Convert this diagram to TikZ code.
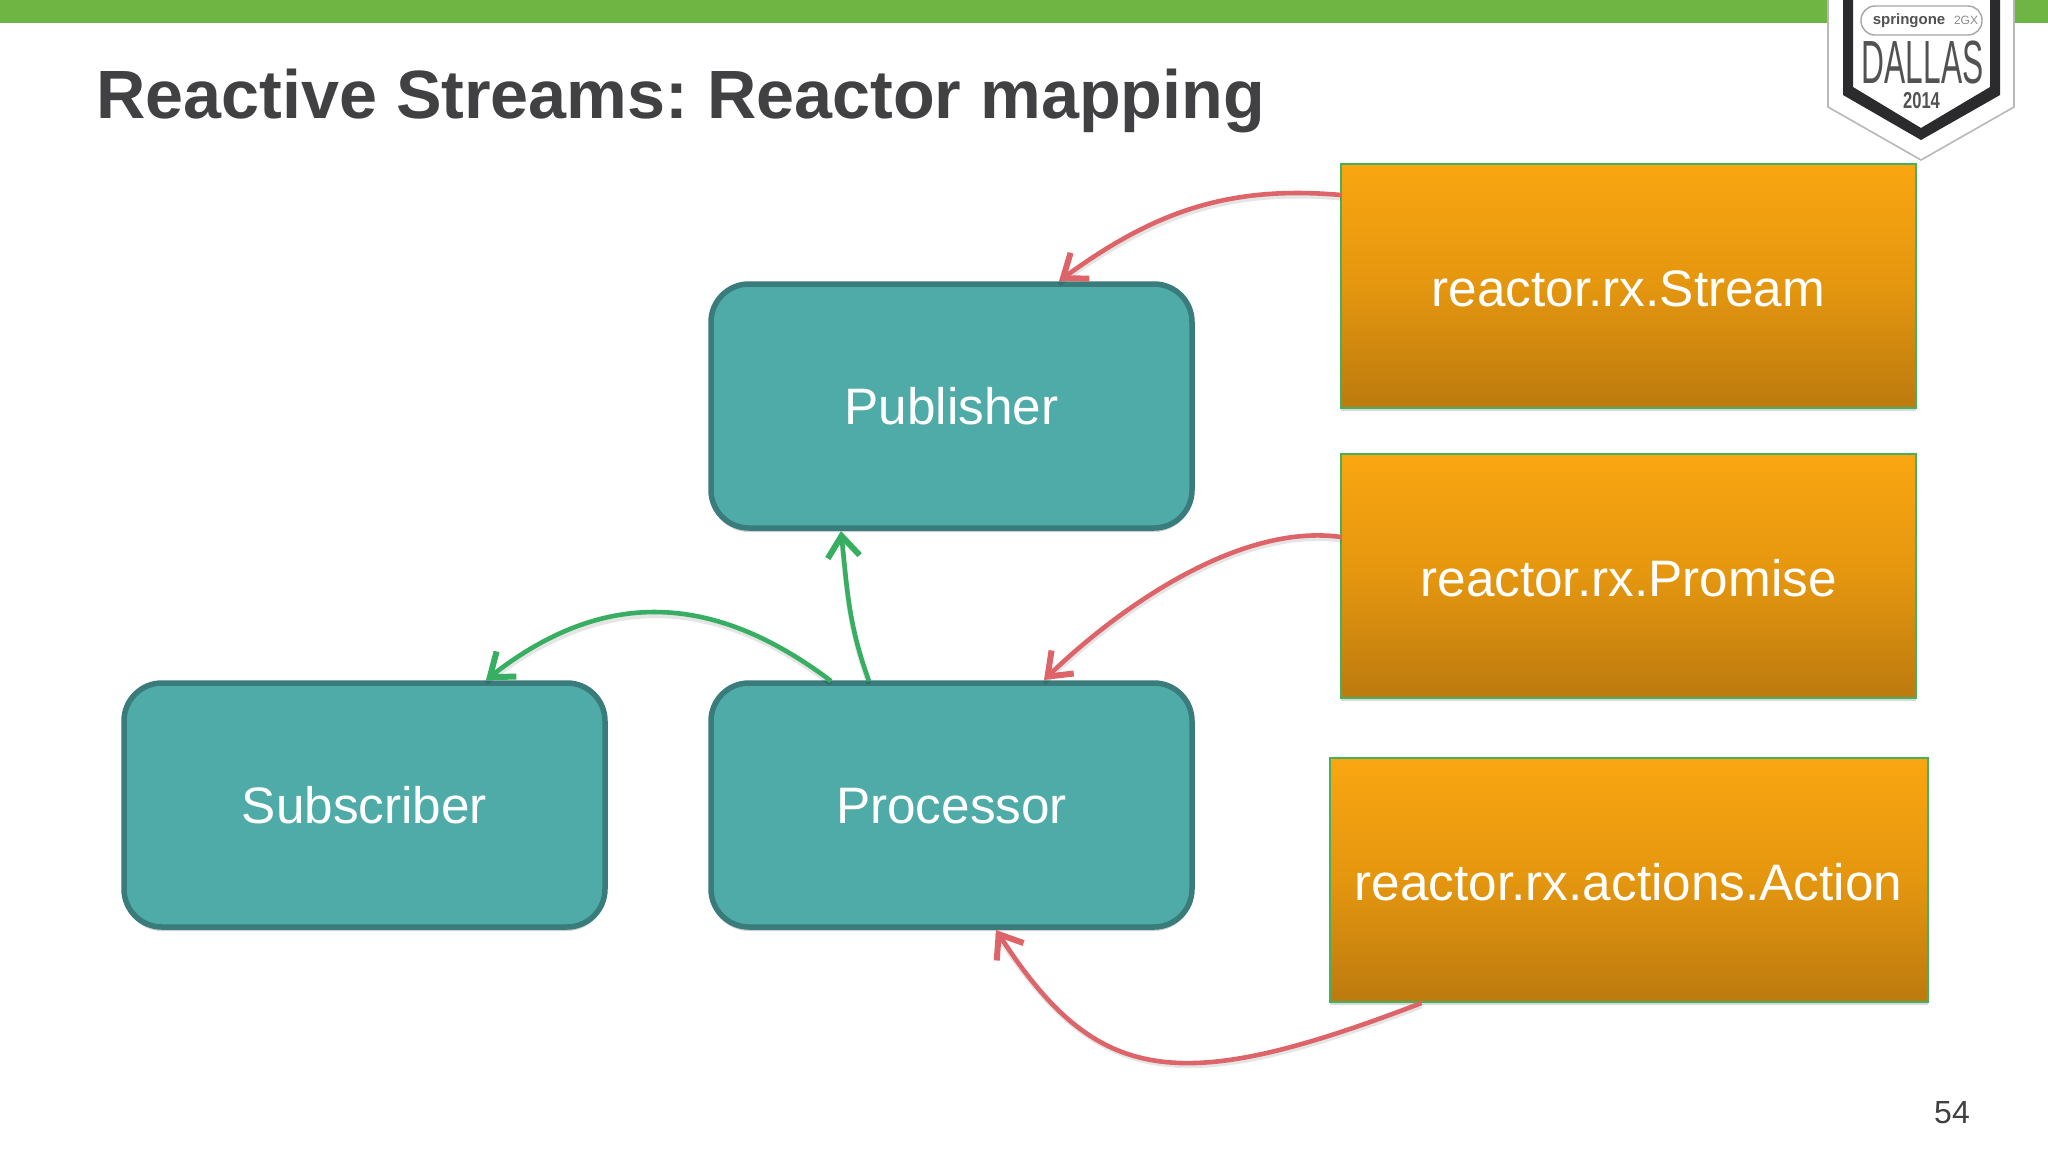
\documentclass[tikz,border=0pt]{standalone}
\usepackage{fontspec}
\setmainfont{Liberation Sans}
\usetikzlibrary{arrows.meta,shadows,positioning}
\definecolor{barGreen}{HTML}{6FB544}
\definecolor{tealFill}{HTML}{4FABA7}
\definecolor{tealLine}{HTML}{3A7C7C}
\definecolor{orangeTop}{HTML}{FAA611}
\definecolor{orangeMid}{HTML}{E4960F}
\definecolor{orangeLow}{HTML}{BC7A0E}
\definecolor{boxEdge}{HTML}{45B060}
\definecolor{redLine}{HTML}{DD6469}
\definecolor{greenLine}{HTML}{37AE62}
\definecolor{titleGrey}{HTML}{414042}
\definecolor{badgeDark}{HTML}{2B2B2D}
\frenchspacing
\tikzset{
  teal box/.style={draw=tealLine,fill=tealFill,line width=5.5pt,rounded corners=38pt,
    minimum width=481pt,minimum height=244pt,text=white,outer sep=0pt,
    text height=37pt,text depth=0pt,font=\fontsize{51.3}{60}\selectfont,
    drop shadow={shadow xshift=0pt,shadow yshift=-4pt,opacity=.18,fill=black}},
  orange box/.style={draw=boxEdge,line width=2pt,top color=orangeTop,bottom color=orangeLow,
    middle color=orangeMid,minimum height=244pt,text=white,outer sep=0pt,
    text height=40pt,text depth=0pt,font=\fontsize{51.3}{60}\selectfont,
    drop shadow={shadow xshift=0pt,shadow yshift=-3pt,opacity=.15,fill=black}},
  link/.style={line width=4.6pt,-{Straight Barb[length=21pt,width=32pt,line width=6pt]},
    preaction={draw=black,opacity=.10,line width=5pt,transform canvas={yshift=-3pt},-}},
  red link/.style={link,draw=redLine},
  green link/.style={link,draw=greenLine},
  badge text/.style={text=badgeText,inner sep=0pt,transform shape},
}
\colorlet{badgeText}{black!68}
\begin{document}
\begin{tikzpicture}[x=1pt,y=-1pt]
\useasboundingbox (0,0) rectangle (2048,1152);
\fill[white] (0,0) rectangle (2048,1152);
\fill[barGreen] (0,0) rectangle (2048,23);

% badge
\filldraw[fill=white,draw=black!28,line width=1.6pt] (1828,-2) -- (1828,107) -- (1921,160) -- (2014,107) -- (2014,-2) -- cycle;
\fill[badgeDark] (1843,-2) -- (1843,95) -- (1921,140) -- (2000,95) -- (2000,-2) -- (1990,-2) -- (1990,87) -- (1921,128) -- (1853,87) -- (1853,-2) -- cycle;
\draw[black!35,line width=1.4pt,rounded corners=14pt] (1861,6) rectangle (1982,35);
\node[badge text,font=\fontsize{15}{17}\bfseries\selectfont] at (1909,20.5) {springone};
\node[badge text,font=\fontsize{12}{14}\selectfont,text=black!45] at (1966,20.5) {2GX};
\node[badge text,xscale=.52,font=\fontsize{61}{64}\selectfont] at (1922.5,62.5) {DALLAS};
\node[badge text,xscale=.72,font=\fontsize{23}{26}\bfseries\selectfont] at (1921.5,100.5) {2014};

\node[anchor=base west,inner sep=0pt,text=titleGrey,font=\fontsize{68.3}{80}\bfseries\selectfont] (title) at (96,118) {Reactive Streams: Reactor mapping};
\node[anchor=base,inner sep=0pt,text=black!75,font=\fontsize{32}{38}\selectfont] (page) at (1952,1123) {54};

\node[teal box] (pub) at (951.5,406) {Publisher};
\node[teal box] (sub) at (364.5,805) {Subscriber};
\node[teal box] (proc) at (951.5,805) {Processor};
\node[orange box,minimum width=575pt] (stream) at (1628.5,286) {reactor.rx.Stream};
\node[orange box,minimum width=575pt] (promise) at (1628.5,576) {reactor.rx.Promise};
\node[orange box,minimum width=598pt] (action) at (1628.5,880) {reactor.rx.actions.Action};

\draw[red link] ([yshift=91pt]stream.west) to[out=175,in=36] ([xshift=348pt,yshift=3pt]pub.north west);
\draw[red link] ([yshift=39pt]promise.west) to[out=172,in=44,looseness=.8] ([xshift=333pt,yshift=3pt]proc.north west);
\draw[red link] ([xshift=92pt,yshift=-1pt]action.south west) to[out=201,in=-57,out looseness=1.55,in looseness=1.1] ([xshift=285pt,yshift=-3pt]proc.south west);
\draw[green link] ([xshift=120pt,yshift=2pt]proc.north west) to[out=143,in=38,looseness=1.1] ([xshift=362pt,yshift=3pt]sub.north west);
\draw[green link] ([xshift=158pt,yshift=2pt]proc.north west) to[out=110,in=-84] ([xshift=130pt,yshift=-3pt]pub.south west);
\end{tikzpicture}
\end{document}
